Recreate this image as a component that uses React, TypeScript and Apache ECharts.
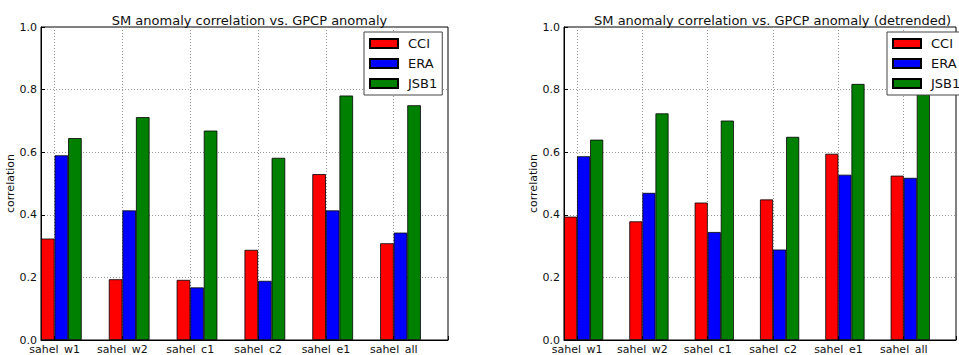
import React, { useEffect, useRef } from 'react';
import * as echarts from 'echarts';

const categories = ['sahel_w1', 'sahel_w2', 'sahel_c1', 'sahel_c2', 'sahel_e1', 'sahel_all'];
const seriesNames = ['CCI', 'ERA', 'JSB1'];
const seriesColors = ['#ff0000', '#0000ff', '#008000'];

const leftTitle = 'SM anomaly correlation vs. GPCP anomaly';
const leftCCI = [0.324, 0.194, 0.192, 0.288, 0.53, 0.309];
const leftERA = [0.59, 0.414, 0.168, 0.189, 0.414, 0.343];
const leftJSB1 = [0.645, 0.712, 0.669, 0.582, 0.781, 0.75];

const rightTitle = 'SM anomaly correlation vs. GPCP anomaly (detrended)';
const rightCCI = [0.394, 0.379, 0.439, 0.449, 0.595, 0.525];
const rightERA = [0.587, 0.47, 0.345, 0.289, 0.528, 0.518];
const rightJSB1 = [0.64, 0.724, 0.701, 0.649, 0.818, 0.8];

const yAxisName = 'correlation';

const FONT = 'DejaVu Sans';
const TEXT = '#111';

export default function App() {
  const ref = useRef<HTMLDivElement>(null);

  useEffect(() => {
    document.body.style.margin = '0';
    const chart = echarts.init(ref.current!, null, { renderer: 'svg' });

    const panels = [
      { title: leftTitle, data: [leftCCI, leftERA, leftJSB1], left: 41 },
      { title: rightTitle, data: [rightCCI, rightERA, rightJSB1], left: 564 },
    ];
    const plotWidth = 407;
    const plotTop = 27;
    const plotHeight = 314;

    const catLabel = (v: number) => {
      const i = Math.round(v);
      return Math.abs(v - i) < 1e-6 && categories[i] ? categories[i] : '';
    };

    const option: any = {
      animation: false,
      textStyle: { fontFamily: FONT },
      title: panels.map((p) => ({
        text: p.title,
        left: p.left + plotWidth / 2,
        textAlign: 'center',
        top: 9,
        textStyle: { fontSize: 13, fontWeight: 'normal', color: TEXT, fontFamily: FONT },
      })),
      legend: panels.map((p) => ({
        data: seriesNames,
        orient: 'vertical',
        left: p.left + 323,
        top: 32,
        itemWidth: 28,
        itemHeight: 9,
        itemGap: 7,
        padding: [5, 5, 5, 5],
        borderColor: '#444',
        borderWidth: 1,
        backgroundColor: '#fff',
        selectedMode: false,
        icon: 'rect',
        textStyle: { fontSize: 13, color: TEXT, fontFamily: FONT, padding: [0, 0, 0, 5] },
      })),
      grid: panels.map((p) => ({
        left: p.left,
        top: plotTop,
        width: plotWidth,
        height: plotHeight,
        show: true,
        borderColor: '#000',
        borderWidth: 1,
        containLabel: false,
      })),
      xAxis: panels.map((_, gi) => ({
        type: 'value',
        gridIndex: gi,
        min: -0.2,
        max: categories.length - 0.2,
        minInterval: 1,
        maxInterval: 1,
        axisLine: { show: true, onZero: false, lineStyle: { color: '#000', width: 1 } },
        axisTick: { show: true, inside: true, length: 4, lineStyle: { color: '#000' } },
        axisLabel: {
          formatter: catLabel,
          fontSize: 11,
          lineHeight: 11,
          color: TEXT,
          margin: 4,
          fontFamily: FONT,
        },
        splitLine: {
          show: true,
          showMinLine: false,
          showMaxLine: false,
          lineStyle: { color: '#999', type: [1, 2], width: 1 },
        },
      })),
      yAxis: panels.map((_, gi) => ({
        type: 'value',
        gridIndex: gi,
        min: 0,
        max: 1,
        interval: 0.2,
        name: yAxisName,
        nameLocation: 'middle',
        nameGap: 25,
        nameTextStyle: { fontSize: 11, color: TEXT, fontFamily: FONT },
        axisLine: { show: true, onZero: false, lineStyle: { color: '#000', width: 1 } },
        axisTick: { show: true, inside: true, length: 4, lineStyle: { color: '#000' } },
        axisLabel: {
          formatter: (v: number) => v.toFixed(1),
          fontSize: 11,
          lineHeight: 8,
          color: TEXT,
          margin: 4,
          fontFamily: FONT,
        },
        splitLine: {
          show: true,
          showMinLine: false,
          showMaxLine: false,
          lineStyle: { color: '#999', type: [1, 2], width: 1 },
        },
      })),
      series: panels.flatMap((p, gi) =>
        p.data.map((vals, si) => ({
          type: 'bar',
          name: seriesNames[si],
          xAxisIndex: gi,
          yAxisIndex: gi,
          barWidth: '20%',
          barGap: '0%',
          data: vals.map((v, i) => [i + 0.1, v]),
          itemStyle: { color: seriesColors[si], borderColor: '#000', borderWidth: 0.8 },
          emphasis: { disabled: true },
        }))
      ),
    };

    chart.setOption(option);
    return () => chart.dispose();
  }, []);

  return <div ref={ref} style={{ width: 959, height: 355 }} />;
}
